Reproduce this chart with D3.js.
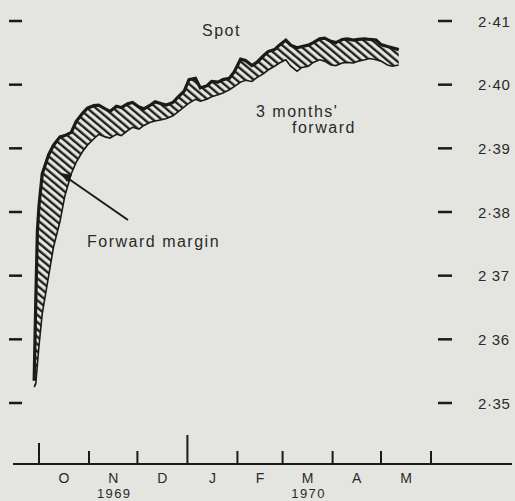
<!DOCTYPE html>
<html>
<head>
<meta charset="utf-8">
<script src="https://cdn.jsdelivr.net/npm/d3@7"></script>
<style>
  body { margin: 0; background: #e4e5e0; }
  svg { display: block; font-family: "Liberation Sans", Arial, sans-serif; }
</style>
</head>
<body>
<script>
// weekly-ish readings, spot and 3 months' forward ($ per £)
const dates = ["1969-09-28", "1969-09-29", "1969-09-30", "1969-10-01", "1969-10-03", "1969-10-07",
    "1969-10-10", "1969-10-14", "1969-10-17", "1969-10-21", "1969-10-24", "1969-10-28", "1969-10-31",
    "1969-11-04", "1969-11-07", "1969-11-11", "1969-11-14", "1969-11-18", "1969-11-21", "1969-11-25",
    "1969-11-28", "1969-12-02", "1969-12-05", "1969-12-09", "1969-12-12", "1969-12-16", "1969-12-19",
    "1969-12-23", "1969-12-26", "1969-12-30", "1970-01-02", "1970-01-06", "1970-01-09", "1970-01-13",
    "1970-01-16", "1970-01-20", "1970-01-23", "1970-01-27", "1970-01-30", "1970-02-03", "1970-02-06",
    "1970-02-10", "1970-02-13", "1970-02-17", "1970-02-20", "1970-02-24", "1970-02-27", "1970-03-03",
    "1970-03-06", "1970-03-10", "1970-03-13", "1970-03-17", "1970-03-20", "1970-03-24", "1970-03-27",
    "1970-03-31", "1970-04-03", "1970-04-07", "1970-04-10", "1970-04-14", "1970-04-17", "1970-04-21",
    "1970-04-24", "1970-04-28", "1970-05-01", "1970-05-05", "1970-05-08", "1970-05-12"];

const spot = [2.3535, 2.3660, 2.3770, 2.3810, 2.3860, 2.3890,
    2.3905, 2.3918, 2.3920, 2.3925, 2.3942, 2.3955, 2.3963,
    2.3967, 2.3968, 2.3962, 2.3958, 2.3966, 2.3964, 2.3970,
    2.3972, 2.3965, 2.3962, 2.3968, 2.3973, 2.3970, 2.3968,
    2.3972, 2.3980, 2.3990, 2.4008, 2.4010, 2.3995, 2.3998,
    2.4005, 2.4004, 2.4008, 2.4010, 2.4020, 2.4040, 2.4038,
    2.4030, 2.4035, 2.4045, 2.4052, 2.4055, 2.4062, 2.4070,
    2.4062, 2.4058, 2.4060, 2.4062, 2.4066, 2.4072, 2.4073,
    2.4068, 2.4066, 2.4071, 2.4072, 2.4070, 2.4071, 2.4072,
    2.4071, 2.4070, 2.4063, 2.4060, 2.4058, 2.4055];

const forward = [2.3525, 2.3530, 2.3560, 2.3590, 2.3640, 2.3700,
    2.3745, 2.3785, 2.3825, 2.3860, 2.3878, 2.3895, 2.3905,
    2.3915, 2.3922, 2.3918, 2.3916, 2.3922, 2.3920, 2.3928,
    2.3933, 2.3930, 2.3936, 2.3941, 2.3943, 2.3945, 2.3947,
    2.3951, 2.3957, 2.3965, 2.3971, 2.3977, 2.3974, 2.3977,
    2.3981, 2.3984, 2.3987, 2.3992, 2.3997, 2.4004, 2.4007,
    2.4005, 2.4011, 2.4017, 2.4023, 2.4029, 2.4034, 2.4039,
    2.4029, 2.4021, 2.4027, 2.4029, 2.4035, 2.4039, 2.4037,
    2.4031, 2.4030, 2.4034, 2.4035, 2.4034, 2.4037, 2.4039,
    2.4041, 2.4039, 2.4037, 2.4031, 2.4029, 2.4031];

const yTicks = [2.35, 2.36, 2.37, 2.38, 2.39, 2.40, 2.41];
const yTickLabels = ["2·35", "2 36", "2 37", "2·38", "2·39", "2·40", "2·41"];
const monthStarts = ["1969-10-01", "1969-11-01", "1969-12-01", "1970-01-01", "1970-02-01",
    "1970-03-01", "1970-04-01", "1970-05-01", "1970-06-01"];
const monthLabels = ["O", "N", "D", "J", "F", "M", "A", "M"];
const years = [{ label: "1969", month: 1 }, { label: "1970", month: 5 }];

const width = 515;
const height = 501;
const parse = d3.utcParse("%Y-%m-%d");

const data = dates.map((d, i) => ({ date: parse(d), spot: spot[i], fwd: forward[i] }));
const months = monthStarts.map(parse);

const xScale = d3.scaleUtc()
    .domain([months[0], months[months.length - 1]])
    .range([39, 431]);

const yScale = d3.scaleLinear()
    .domain([2.35, 2.41])
    .range([403, 21]);

const svg = d3.select('body')
    .append('svg')
    .attr('width', width)
    .attr('height', height);

svg.append('rect')
    .attr('width', width)
    .attr('height', height)
    .attr('fill', '#e4e5e0');

const ink = '#1a1a1a';

// hatch for the forward margin band
svg.append('defs')
    .append('pattern')
    .attr('id', 'hatch')
    .attr('patternUnits', 'userSpaceOnUse')
    .attr('width', 5.6)
    .attr('height', 10)
    .attr('patternTransform', 'rotate(-50)')
    .append('line')
    .attr('x1', 1.2).attr('y1', 0)
    .attr('x2', 1.2).attr('y2', 10)
    .attr('stroke', ink)
    .attr('stroke-width', 2.3);

// y tick dashes on both sides, labels on the right
svg.append('g')
    .selectAll('line')
    .data(yTicks)
    .enter()
    .append('line')
    .attr('x1', 9).attr('x2', 22)
    .attr('y1', (d) => yScale(d)).attr('y2', (d) => yScale(d))
    .attr('stroke', ink)
    .attr('stroke-width', 2.5);

svg.append('g')
    .selectAll('line')
    .data(yTicks)
    .enter()
    .append('line')
    .attr('x1', 438).attr('x2', 452)
    .attr('y1', (d) => yScale(d)).attr('y2', (d) => yScale(d))
    .attr('stroke', ink)
    .attr('stroke-width', 2.5);

svg.append('g')
    .selectAll('text')
    .data(yTicks)
    .enter()
    .append('text')
    .attr('x', 478)
    .attr('y', (d) => yScale(d) + 5.5)
    .attr('font-size', 15)
    .attr('letter-spacing', 0.6)
    .attr('fill', '#2a2a2a')
    .text((d, i) => yTickLabels[i]);

// x axis
const axisY = 464;
svg.append('line')
    .attr('x1', 13).attr('x2', 512)
    .attr('y1', axisY).attr('y2', axisY)
    .attr('stroke', ink)
    .attr('stroke-width', 2);

svg.append('g')
    .selectAll('line')
    .data(months)
    .enter()
    .append('line')
    .attr('x1', (d) => xScale(d)).attr('x2', (d) => xScale(d))
    .attr('y1', axisY)
    .attr('y2', (d, i) => i == 0 ? axisY - 21 : (i == 3 ? axisY - 29 : axisY - 13))
    .attr('stroke', ink)
    .attr('stroke-width', 2);

svg.append('g')
    .selectAll('text')
    .data(monthLabels)
    .enter()
    .append('text')
    .attr('x', (d, i) => (xScale(months[i]) + xScale(months[i + 1])) / 2)
    .attr('y', 482.5)
    .attr('text-anchor', 'middle')
    .attr('font-size', 14)
    .attr('fill', '#2a2a2a')
    .text((d) => d);

svg.append('g')
    .selectAll('text')
    .data(years)
    .enter()
    .append('text')
    .attr('x', (d) => (xScale(months[d.month]) + xScale(months[d.month + 1])) / 2 + 1)
    .attr('y', 498)
    .attr('text-anchor', 'middle')
    .attr('font-size', 13)
    .attr('letter-spacing', 1.4)
    .attr('fill', '#2a2a2a')
    .text((d) => d.label);

// the band, then the two lines
const band = d3.area()
    .x((d) => xScale(d.date))
    .y0((d) => yScale(d.fwd))
    .y1((d) => yScale(d.spot));

svg.append('path')
    .datum(data)
    .attr('d', band)
    .attr('fill', 'url(#hatch)');

svg.append('path')
    .datum(data)
    .attr('d', d3.line().x((d) => xScale(d.date)).y((d) => yScale(d.fwd)))
    .attr('fill', 'none')
    .attr('stroke', ink)
    .attr('stroke-width', 1.6);

svg.append('path')
    .datum(data)
    .attr('d', d3.line().x((d) => xScale(d.date)).y((d) => yScale(d.spot)))
    .attr('fill', 'none')
    .attr('stroke', ink)
    .attr('stroke-width', 3.2)
    .attr('stroke-linejoin', 'miter');

// labels
const label = (x, y, t) => svg.append('text')
    .attr('x', x).attr('y', y)
    .attr('font-size', 16)
    .attr('letter-spacing', 1.5)
    .attr('fill', '#2a2a2a')
    .text(t);

label(202, 36, 'Spot');
label(256, 117, "3 months'");
label(292, 133, 'forward');
label(87, 247, 'Forward margin');

// arrow to the band
svg.append('line')
    .attr('x1', 128).attr('y1', 220)
    .attr('x2', 66).attr('y2', 177)
    .attr('stroke', ink)
    .attr('stroke-width', 2);

svg.append('path')
    .attr('d', 'M61,173 L72,175 L67,182 Z')
    .attr('fill', ink);
</script>
</body>
</html>
